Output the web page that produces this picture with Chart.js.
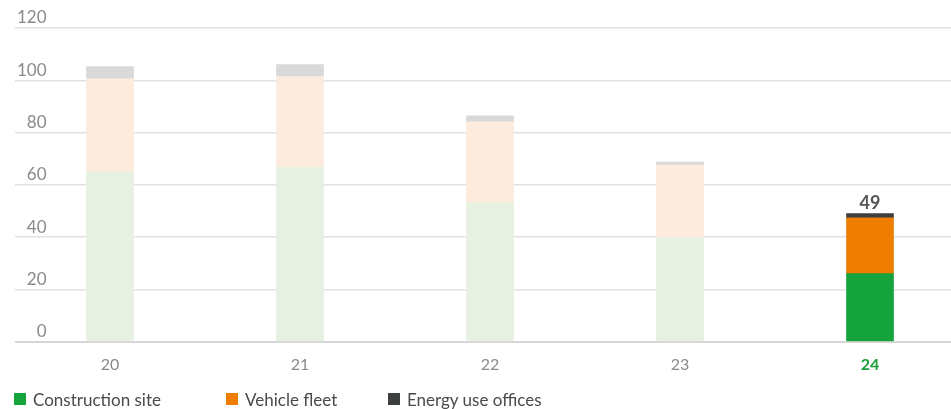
<!DOCTYPE html>
<html>
<head>
<meta charset="utf-8">
<script src="https://cdn.jsdelivr.net/npm/chart.js@4"></script>
<style>
  body { margin: 0; overflow: hidden; background: #fff; font-family: Lato, sans-serif; }
  .wrap { position: relative; width: 965px; height: 409px; }
  .legend { position: absolute; left: 14px; top: 387px; display: flex; height: 24px; align-items: center; font-size: 17px; color: #4a4a4a; }
  .legend span { display: flex; align-items: center; }
  .legend i { display: inline-block; width: 12px; height: 12px; margin-right: 7px; }
</style>
</head>
<body>
<div class="wrap">
  <canvas id="myChart"></canvas>
  <div class="legend" id="legend"></div>
</div>
<script>
// data

const years = ['20', '21', '22', '23', '24']
const constructionSite = [65.0, 66.8, 53.3, 39.9, 26.1]
const vehicleFleet = [35.6, 34.6, 30.8, 27.7, 21.3]
const energyOffices = [4.6, 4.6, 2.3, 1.1, 1.6]
const seriesNames = ['Construction site', 'Vehicle fleet', 'Energy use offices']

// strong colours for the current year, faded for the others
const strong = ['#15a33b', '#ef7d00', '#3c3f3f']
const faded = ['#e6f1e1', '#fdebde', '#d9d9d9']
const current = years.length - 1

function barColors(i) {
    return years.map((y, j) => j === current ? strong[i] : faded[i])
}

// total on top of the current bar
const totalLabel = {
    id: 'totalLabel',
    afterDatasetsDraw(chart) {
        const c = chart.ctx
        const total = constructionSite[current] + vehicleFleet[current] + energyOffices[current]
        const x = chart.scales.x.getPixelForValue(current)
        const y = chart.scales.y.getPixelForValue(total)
        c.save()
        c.font = 'bold 18px Lato'
        c.fillStyle = '#555'
        c.textAlign = 'center'
        c.textBaseline = 'bottom'
        c.fillText(Math.round(total), x, y - 1)
        c.restore()
    }
}

const ctx = document.getElementById('myChart').getContext('2d')
const myChart = new Chart(ctx, {
    type: 'bar',
    data: {
        labels: years,
        datasets: [constructionSite, vehicleFleet, energyOffices].map((d, i) => ({
            label: seriesNames[i],
            data: d,
            backgroundColor: barColors(i),
            borderWidth: 0,
            barThickness: 47
        }))
    },
    options: {
        responsive: true,
        maintainAspectRatio: false,
        animation: false,
        layout: { padding: { left: 15, top: 28, bottom: 22, right: 0 } },
        plugins: {
            legend: { display: false },
            tooltip: { enabled: false }
        },
        scales: {
            x: {
                stacked: true,
                grid: { display: false, drawTicks: false },
                border: { display: false },
                ticks: {
                    padding: 13,
                    color: (c) => c.index === current ? '#1a9f3a' : '#8a8a8a',
                    font: (c) => ({ family: 'Lato', size: 16, weight: c.index === current ? 'bold' : 'normal' })
                }
            },
            y: {
                stacked: true,
                min: 0,
                max: 120,
                afterFit: (s) => { s.width = 0 },
                grid: {
                    drawTicks: false,
                    color: (c) => c.tick.value === 0 ? '#d6d6d6' : '#e2e2e2',
                    lineWidth: (c) => c.tick.value === 0 ? 2 : 1.5
                },
                border: { display: false },
                ticks: {
                    mirror: true,
                    stepSize: 20,
                    padding: 2,
                    labelOffset: -10,
                    color: '#8a8a8a',
                    font: { family: 'Lato', size: 17 },
                    // figure spaces so the numbers line up on the right
                    callback: (v) => String(v).padStart(3, '\u2007')
                }
            }
        }
    },
    plugins: [totalLabel]
})

// legend, fixed column widths like the original

const legend = document.getElementById('legend')
const legendWidths = [212, 162, 200]
seriesNames.forEach((name, i) => {
    legend.innerHTML += '<span style="width:' + legendWidths[i] + 'px"><i style="background:' + strong[i] + '"></i>' + name + '</span>'
})
</script>
</body>
</html>
